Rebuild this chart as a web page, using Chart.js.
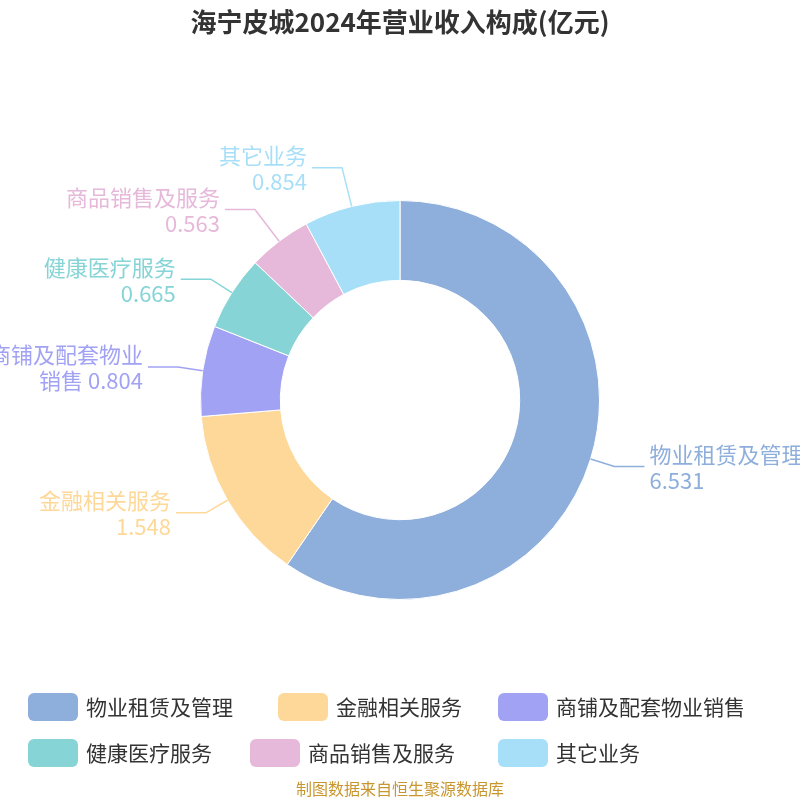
<!DOCTYPE html>
<html><head><meta charset="utf-8">
<script src="https://cdn.jsdelivr.net/npm/chart.js@4"></script>
<style>body{margin:0;background:#fff}#w{width:800px;height:800px}</style>
</head><body><div id="w"><canvas id="c" width="800" height="800"></canvas></div>
<script>
const categories = ['物业租赁及管理','金融相关服务','商铺及配套物业销售','健康医疗服务','商品销售及服务','其它业务'];
const values = [6.531,1.548,0.804,0.665,0.563,0.854];
const colors = ['#8eaedb','#fed898','#a2a2f5','#86d4d6','#e6b8d9','#a8dff8'];
const FONT = '"Noto Sans CJK SC","Noto Sans",sans-serif';

const deco = {
  id:'deco',
  afterDraw(chart){
    const ctx = chart.ctx;
    ctx.save();
    ctx.fillStyle='#333'; ctx.font='bold 26px '+FONT; ctx.textAlign='center'; ctx.textBaseline='middle';
    ctx.fillText('海宁皮城2024年营业收入构成(亿元)',400,22);
    ctx.fillStyle='#c8962e'; ctx.font='16px '+FONT;
    ctx.fillText('制图数据来自恒生聚源数据库',400,789);
    const meta = chart.getDatasetMeta(0);
    meta.data.forEach((arc,i)=>{
      const a=(arc.startAngle+arc.endAngle)/2;
      const cx=arc.x, cy=arc.y, R=arc.outerRadius;
      const x1=cx+Math.cos(a)*R, y1=cy+Math.sin(a)*R;
      const ext = i>=4 ? 40 : 25;
      const x2=cx+Math.cos(a)*(R+ext), y2=cy+Math.sin(a)*(R+ext);
      const right=Math.cos(a)>=0;
      const x3=x2+(right?30:-30);
      ctx.strokeStyle=colors[i]; ctx.lineWidth=1.5;
      ctx.beginPath(); ctx.moveTo(x1,y1); ctx.lineTo(x2,y2); ctx.lineTo(x3,y2); ctx.stroke();
      const name=categories[i], v=values[i].toFixed(3);
      const lines = name.length>7 ? [name.slice(0,7), name.slice(7)+' '+v] : [name, v];
      ctx.fillStyle=colors[i]; ctx.font='22px '+FONT;
      ctx.textAlign=right?'left':'right';
      const tx=x3+(right?5:-5);
      ctx.fillText(lines[0],tx,y2-12);
      ctx.fillText(lines[1],tx,y2+14);
    });
    const pos=[[28,707],[278,707],[498,707],[28,753],[250,753],[498,753]];
    ctx.font='21px '+FONT; ctx.textAlign='left';
    categories.forEach((c,i)=>{
      const [x,y]=pos[i];
      ctx.fillStyle=colors[i];
      ctx.beginPath(); ctx.roundRect(x,y-14,50,28,6); ctx.fill();
      ctx.fillStyle='#333'; ctx.fillText(c,x+58,y);
    });
    ctx.restore();
  }
};

new Chart(document.getElementById('c'),{
  type:'doughnut',
  data:{labels:categories,datasets:[{data:values,backgroundColor:colors,borderColor:'#fff',borderWidth:1,cutout:'60%'}]},
  options:{
    responsive:false,animation:false,
    layout:{padding:{top:200,bottom:200,left:0,right:0}},
    plugins:{legend:{display:false},title:{display:false},tooltip:{enabled:false}}
  },
  plugins:[deco]
});
</script></body></html>
